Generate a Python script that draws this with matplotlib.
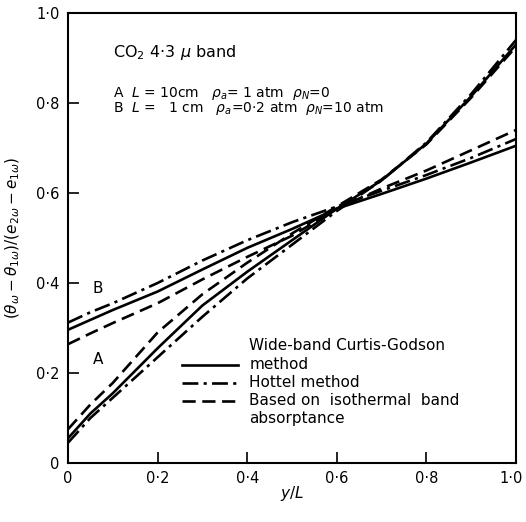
import matplotlib.pyplot as plt
from matplotlib.ticker import FixedLocator, FixedFormatter
from matplotlib.transforms import ScaledTranslation

# y/L positions
y_over_L = [0, 0.05, 0.1, 0.2, 0.3, 0.4, 0.5, 0.6, 0.7, 0.8, 0.9, 1.0]

# curve A (L=10cm)
a_curtis = [0.055, 0.11, 0.155, 0.255, 0.35, 0.425, 0.495, 0.565, 0.628, 0.71, 0.815, 0.93]
a_hottel = [0.045, 0.10, 0.145, 0.235, 0.325, 0.41, 0.485, 0.56, 0.628, 0.712, 0.82, 0.94]
a_isoth = [0.075, 0.13, 0.178, 0.29, 0.375, 0.445, 0.51, 0.57, 0.63, 0.708, 0.812, 0.925]

# curve B (L=1cm)
b_curtis = [0.296, 0.318, 0.34, 0.381, 0.43, 0.478, 0.52, 0.565, 0.598, 0.632, 0.668, 0.705]
b_hottel = [0.312, 0.335, 0.355, 0.40, 0.45, 0.495, 0.535, 0.57, 0.605, 0.64, 0.678, 0.72]
b_isoth = [0.264, 0.288, 0.311, 0.355, 0.408, 0.458, 0.505, 0.565, 0.61, 0.65, 0.695, 0.74]

tick_vals = [0, 0.2, 0.4, 0.6, 0.8, 1.0]
tick_labels = ["0", "0·2", "0·4", "0·6", "0·8", "1·0"]

plt.rcParams['font.family'] = ['DejaVu Sans']

fig = plt.figure(figsize=(5.26, 5.22), dpi=100)
ax = fig.add_axes([68 / 526, 1 - 463 / 522, 448 / 526, 450 / 522])

lw = 1.9
solid = dict(color='black', lw=lw, linestyle='-')
dashdot = dict(color='black', lw=lw, linestyle=(0, (6, 2, 1.2, 2)))
dashed = dict(color='black', lw=lw, linestyle=(0, (5, 2.5)))

ax.plot(y_over_L, a_curtis, **solid)
ax.plot(y_over_L, a_hottel, **dashdot)
ax.plot(y_over_L, a_isoth, **dashed)
ax.plot(y_over_L, b_curtis, **solid)
ax.plot(y_over_L, b_hottel, **dashdot)
ax.plot(y_over_L, b_isoth, **dashed)

ax.set_xlim(0, 1)
ax.set_ylim(0, 1)
ax.xaxis.set_major_locator(FixedLocator(tick_vals))
ax.xaxis.set_major_formatter(FixedFormatter(tick_labels))
ax.yaxis.set_major_locator(FixedLocator(tick_vals))
ax.yaxis.set_major_formatter(FixedFormatter(tick_labels))
ax.tick_params(direction='in', length=8, width=1.2, labelsize=10.5, pad=6)
for s in ax.spines.values():
    s.set_linewidth(1.5)

# keep the last x tick label inside the figure
last = ax.xaxis.get_major_ticks()[-1].label1
last.set_transform(last.get_transform() + ScaledTranslation(-5 / 100, 0, fig.dpi_scale_trans))

ax.set_xlabel(r"$y/L$", fontsize=11, labelpad=-2)
ax.set_ylabel(r"$(\theta_\omega-\theta_{1\omega})/(e_{2\omega}-e_{1\omega})$", fontsize=11, labelpad=10)

ax.text(0.10, 0.913, r"CO$_2$ 4·3 $\mu$ band", fontsize=11.5, va='center')
ax.text(0.10, 0.822, r"A  $L$ = 10cm   $\rho_a$= 1 atm  $\rho_N$=0", fontsize=10, va='center')
ax.text(0.10, 0.787, r"B  $L$ =   1 cm   $\rho_a$=0·2 atm  $\rho_N$=10 atm", fontsize=10, va='center')

ax.text(0.067, 0.387, "B", fontsize=11, ha='center', va='center')
ax.text(0.067, 0.229, "A", fontsize=11, ha='center', va='center')

# legend drawn by hand as in the original
lx0, lx1, tx = 0.255, 0.38, 0.405
leg_rows = [0.26, 0.218, 0.178, 0.138, 0.10]
leg_text = ["Wide-band Curtis-Godson", "method", "Hottel method",
            "Based on  isothermal  band", "absorptance"]
for yy, t in zip(leg_rows, leg_text):
    ax.text(tx, yy, t, fontsize=11, va='center')
ax.plot([lx0, lx1], [0.218, 0.218], **solid)
ax.plot([lx0, lx1], [0.178, 0.178], **dashdot)
ax.plot([lx0, lx1], [0.138, 0.138], **dashed)

fig.savefig("out.png", dpi=100)
